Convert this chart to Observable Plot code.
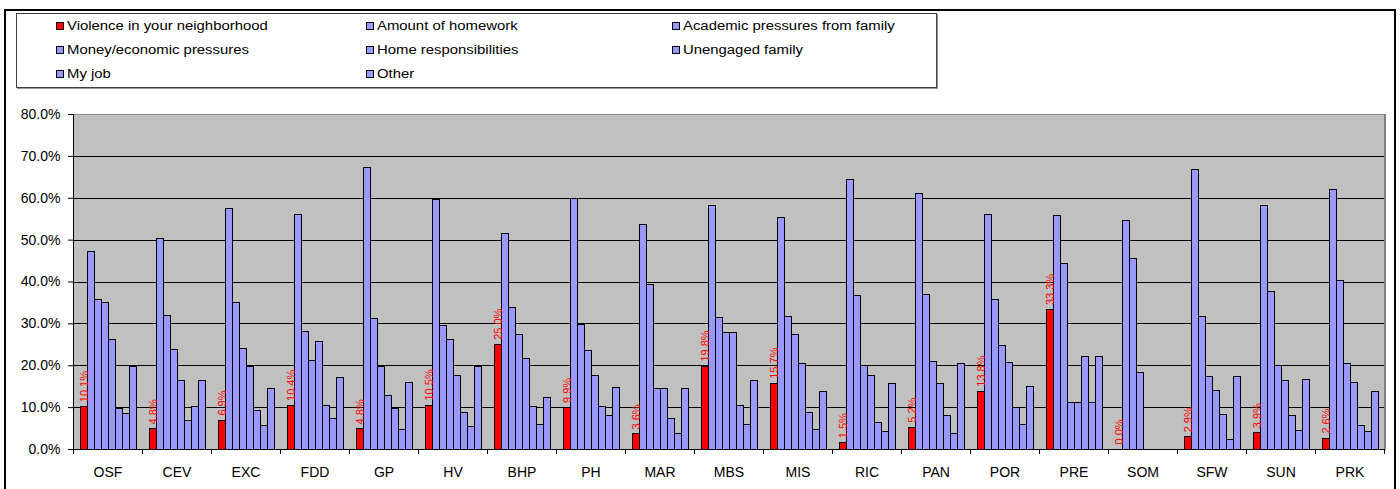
<!DOCTYPE html>
<html>
<head>
<meta charset="utf-8">
<script src="https://cdn.jsdelivr.net/npm/d3@7"></script>
<script src="https://cdn.jsdelivr.net/npm/@observablehq/plot@0.6"></script>
<style>
  body { margin: 0; width: 1400px; height: 489px; overflow: hidden; background: #fff; position: relative;
         font-family: "Liberation Sans", Arial, sans-serif; }
  #outer { position: absolute; left: 4px; top: 9px; width: 1392px; height: 600px; border: 2px solid #000;
           box-sizing: border-box; pointer-events: none; z-index: 3; }
  #legend { position: absolute; left: 16px; top: 13px; width: 921px; height: 75px; border: 1px solid #404040;
            box-shadow: 1px 1px 0 #9a9a9a; box-sizing: border-box; display: grid;
            grid-template-columns: 310px 306px auto; grid-auto-rows: 24px; padding: 0 0 0 39px; z-index: 2; background: #fff; }
  .item { display: flex; align-items: center; white-space: nowrap; }
  .sw { width: 6px; height: 6px; border: 1px solid #000; margin-right: 3px; flex: none; }
  .lab { display: inline-block; font-size: 12px; color: #000; transform: scaleX(1.24); transform-origin: left center; }
  #chart { position: absolute; left: 0; top: 95px; }
</style>
</head>
<body>
<div id="outer"></div>
<div id="legend"></div>
<div id="chart"></div>
<script>
const categories = ["OSF","CEV","EXC","FDD","GP","HV","BHP","PH","MAR","MBS","MIS","RIC","PAN","POR","PRE","SOM","SFW","SUN","PRK"];
const seriesNames = ["Violence in your neighborhood","Amount of homework","Academic pressures from family",
  "Money/economic pressures","Home responsibilities","Unengaged family","My job","Other"];
const seriesColors = ["#FF0000","#9999FF","#9999FF","#9999FF","#9999FF","#9999FF","#9999FF","#9999FF"];

const violence  = [10.1, 4.8, 6.9, 10.4, 4.8, 10.5, 25.0, 9.9, 3.6, 19.8, 15.7, 1.5, 5.2, 13.8, 33.3, 0.0, 2.9, 3.9, 2.6];
const homework  = [47.1, 50.2, 57.4, 56.0, 67.3, 59.6, 51.5, 59.8, 53.5, 58.1, 55.2, 64.3, 60.9, 56.0, 55.7, 54.6, 66.8, 58.2, 62.0];
const academic  = [35.6, 32.0, 35.0, 28.1, 31.1, 29.4, 33.7, 29.7, 39.2, 31.4, 31.7, 36.6, 36.9, 35.8, 44.4, 45.5, 31.7, 37.5, 40.3];
const money     = [35.0, 23.8, 24.0, 21.2, 19.8, 26.2, 27.3, 23.5, 14.4, 27.8, 27.3, 19.9, 20.9, 24.6, 11.0, 18.2, 17.4, 19.9, 20.4];
const home      = [26.2, 16.3, 19.6, 25.7, 12.8, 17.6, 21.6, 17.6, 14.4, 27.8, 20.4, 17.6, 15.7, 20.7, 11.0, 0.0, 14.0, 16.3, 15.9];
const unengaged = [9.6, 6.9, 9.1, 10.5, 9.6, 8.6, 10.2, 10.2, 7.2, 10.5, 8.6, 6.4, 8.0, 10.0, 22.1, 0.0, 8.3, 8.0, 5.5];
const job       = [8.5, 10.2, 5.5, 7.2, 4.7, 5.3, 5.8, 8.0, 3.7, 5.8, 4.7, 4.1, 3.6, 5.8, 11.0, 0.0, 2.2, 4.4, 4.1];
const other     = [19.6, 16.3, 14.4, 17.1, 16.0, 19.6, 12.4, 14.7, 14.4, 16.3, 13.8, 15.7, 20.4, 14.9, 22.1, 0.0, 17.4, 16.5, 13.8];
const gridValues = [10, 20, 30, 40, 50, 60, 70];

const seriesValues = [violence, homework, academic, money, home, unengaged, job, other];
const data = categories.flatMap((c, i) => seriesNames.map((s, j) => ({cat: c, series: s, value: seriesValues[j][i]})));

// Legend
const legend = document.getElementById("legend");
seriesNames.forEach((s, j) => {
  const it = document.createElement("div");
  it.className = "item";
  it.innerHTML = `<span class="sw" style="background:${seriesColors[j]}"></span><span class="lab"></span>`;
  it.querySelector(".lab").textContent = s;
  legend.appendChild(it);
});

const chart = Plot.plot({
  width: 1400,
  height: 394,
  marginTop: 19,
  marginBottom: 40,
  marginLeft: 73,
  marginRight: 16,
  style: {fontFamily: '"Liberation Sans", Arial, sans-serif', fontSize: "14px", background: "transparent", color: "#000", overflow: "visible"},
  facet: {data, x: "cat"},
  fx: {domain: categories, padding: 0, axis: "bottom", tickSize: 0, tickPadding: 18, label: null},
  x: {domain: seriesNames, paddingInner: 0, paddingOuter: 0.65, axis: null},
  y: {domain: [0, 80], ticks: 8, tickFormat: d => d.toFixed(1) + "%", tickSize: 5, tickPadding: 8, label: null},
  color: {domain: seriesNames, range: seriesColors},
  marks: [
    Plot.frame({fill: "#C0C0C0", stroke: "none", shapeRendering: "crispEdges", insetRight: -1}),
    Plot.ruleY(gridValues, {stroke: "#000", strokeWidth: 1, shapeRendering: "crispEdges", insetRight: -1}),
    Plot.ruleY([80], {stroke: "#8c8c8c", strokeWidth: 1.5, shapeRendering: "crispEdges", insetRight: -1}),
    Plot.barY(data, {x: "series", y: "value", fill: "series", stroke: "#000", strokeWidth: 1, shapeRendering: "crispEdges"}),
    Plot.ruleY([0], {stroke: "#000", shapeRendering: "crispEdges", insetRight: -1}),
    Plot.text(data, {
      filter: d => d.series === seriesNames[0],
      x: "series", y: "value",
      text: d => d.value.toFixed(1) + "%",
      rotate: -90, textAnchor: "start", lineAnchor: "middle", dy: -5,
      fill: "#FF0000", fontSize: 11
    })
  ]
});
document.getElementById("chart").appendChild(chart);

// Axis lines and group boundary ticks from Plot's own scales
try {
  const fxd = chart.scale("fx");
  const yd = chart.scale("y");
  const bw = fxd.bandwidth;
  const bounds = categories.map(c => fxd.apply(c));
  bounds.push(fxd.apply(categories[categories.length - 1]) + bw);
  const y0 = yd.apply(0), yTop = yd.apply(80);
  const g = d3.select(chart).append("g").attr("shape-rendering", "crispEdges");
  g.selectAll("line.tk").data(bounds).join("line")
    .attr("x1", d => Math.round(d) + 0.5).attr("x2", d => Math.round(d) + 0.5)
    .attr("y1", y0).attr("y2", y0 + 5).attr("stroke", "#000");
  g.append("line")
    .attr("x1", Math.round(bounds[bounds.length - 1]) + 0.5).attr("x2", Math.round(bounds[bounds.length - 1]) + 0.5)
    .attr("y1", yTop).attr("y2", y0).attr("stroke", "#808080").attr("stroke-width", 2);
  g.append("line")
    .attr("x1", Math.round(bounds[0]) + 0.5).attr("x2", Math.round(bounds[0]) + 0.5)
    .attr("y1", yTop).attr("y2", y0 + 0.5).attr("stroke", "#000");
} catch (e) { console.error(e); }
</script>
</body>
</html>
